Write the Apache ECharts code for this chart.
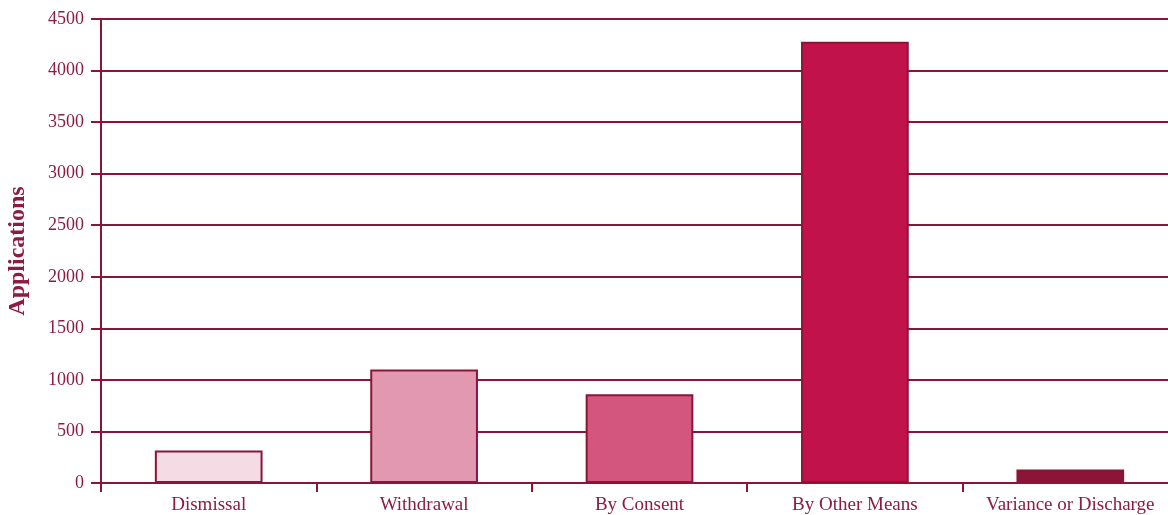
<!DOCTYPE html>
<html>
<head>
<meta charset="utf-8">
<script src="https://cdn.jsdelivr.net/npm/echarts@6/dist/echarts.min.js"></script>
<style>
  html, body { margin: 0; padding: 0; background: #ffffff; }
  #chart { width: 1168px; height: 515px; }
</style>
</head>
<body>
<div id="chart"></div>
<script>
// Application outcomes
const categories = ['Dismissal', 'Withdrawal', 'By Consent', 'By Other Means', 'Variance or Discharge'];
const applications = [315, 1100, 860, 4280, 130];
const barColors = ['#f5dbe4', '#e398b2', '#d3567f', '#c1124b', '#8a1538'];
const yTicks = { min: 0, max: 4500, interval: 500 };

const lineColor = '#8a1538';
const textColor = '#8c1c40';
const fontFamily = '"Liberation Serif", "DejaVu Serif", serif';

const chart = echarts.init(document.getElementById('chart'), null, { renderer: 'canvas' });

chart.setOption({
  animation: false,
  backgroundColor: '#ffffff',
  grid: {
    left: 101, top: 19, width: 1077, height: 464,
    containLabel: false, outerBoundsMode: 'none'
  },
  xAxis: {
    type: 'category',
    data: categories,
    boundaryGap: true,
    axisLine: { show: true, lineStyle: { color: lineColor, width: 2 } },
    axisTick: { show: true, length: 9, interval: 0, alignWithLabel: false, lineStyle: { color: lineColor, width: 2 } },
    axisLabel: { interval: 0, color: textColor, fontFamily: fontFamily, fontSize: 19, margin: 13, hideOverlap: false },
    splitLine: { show: false }
  },
  yAxis: {
    type: 'value',
    min: yTicks.min,
    max: yTicks.max,
    interval: yTicks.interval,
    name: 'Applications',
    nameLocation: 'middle',
    nameGap: 71,
    nameTextStyle: { color: textColor, fontFamily: fontFamily, fontSize: 24, fontWeight: 'bold' },
    axisLine: { show: true, lineStyle: { color: lineColor, width: 2 } },
    axisTick: { show: true, length: 10, lineStyle: { color: lineColor, width: 2 } },
    axisLabel: { color: textColor, fontFamily: fontFamily, fontSize: 18, margin: 17, formatter: v => String(v) },
    splitLine: { show: true, lineStyle: { color: lineColor, width: 2 } }
  },
  series: [{
    type: 'bar',
    barWidth: '50%',
    data: applications.map((v, i) => ({
      value: v,
      itemStyle: { color: barColors[i], borderColor: lineColor, borderWidth: 2 }
    }))
  }]
});
</script>
</body>
</html>
